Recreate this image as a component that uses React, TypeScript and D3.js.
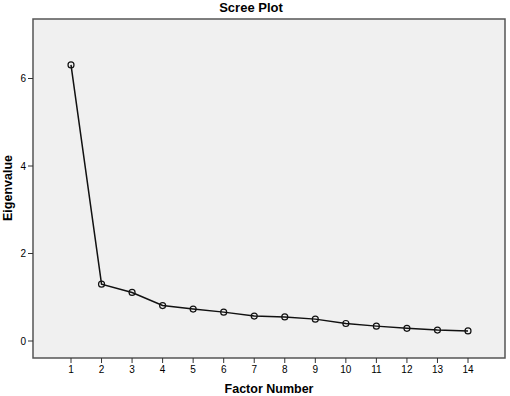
import React from "react";
import * as d3 from "d3";

const factors = [1, 2, 3, 4, 5, 6, 7, 8, 9, 10, 11, 12, 13, 14];
const eigenvalues = [6.31, 1.3, 1.11, 0.81, 0.73, 0.66, 0.57, 0.55, 0.5, 0.4, 0.34, 0.29, 0.25, 0.23];
const yTicks = [0, 2, 4, 6];

const W = 510;
const H = 396;
const frame = { left: 33, top: 19, right: 505, bottom: 358 };

const App = () => {
  const x = d3.scaleLinear().domain([1, 14]).range([71, 468]);
  const y = d3.scaleLinear().domain([0, 6]).range([341, 78.5]);
  const line = d3
    .line<number>()
    .x((d, i) => x(factors[i]))
    .y((d) => y(d));
  const font = "Arial, 'Liberation Sans', sans-serif";

  return (
    <svg
      width={W}
      height={H}
      style={{ position: "absolute", left: 0, top: 0, background: "#fff" }}
      fontFamily={font}
    >
      <text x={251} y={12} textAnchor="middle" fontSize={13} fontWeight="bold">
        Scree Plot
      </text>
      <rect
        x={frame.left}
        y={frame.top}
        width={frame.right - frame.left}
        height={frame.bottom - frame.top}
        fill="#f0f0f0"
        stroke="#555"
        strokeWidth={1.5}
      />
      {/* y axis ticks */}
      {yTicks.map((t) => (
        <g key={t}>
          <line x1={frame.left - 5} x2={frame.left} y1={y(t)} y2={y(t)} stroke="#333" />
          <text x={frame.left - 7} y={y(t)} dy="0.35em" textAnchor="end" fontSize={10}>
            {t}
          </text>
        </g>
      ))}
      {/* x axis ticks */}
      {factors.map((f) => (
        <g key={f}>
          <line x1={x(f)} x2={x(f)} y1={frame.bottom} y2={frame.bottom + 5} stroke="#333" />
          <text x={x(f)} y={frame.bottom + 15} textAnchor="middle" fontSize={10}>
            {f}
          </text>
        </g>
      ))}
      <path d={line(eigenvalues) || ""} fill="none" stroke="#111" strokeWidth={1.5} />
      {eigenvalues.map((v, i) => (
        <circle
          key={i}
          cx={x(factors[i])}
          cy={y(v)}
          r={3}
          fill="none"
          stroke="#111"
          strokeWidth={1.2}
        />
      ))}
      <text x={269} y={393} textAnchor="middle" fontSize={12.5} fontWeight="bold">
        Factor Number
      </text>
      <text
        transform={`translate(11.5,188) rotate(-90)`}
        textAnchor="middle"
        fontSize={12.5}
        fontWeight="bold"
      >
        Eigenvalue
      </text>
    </svg>
  );
};

export default App;
